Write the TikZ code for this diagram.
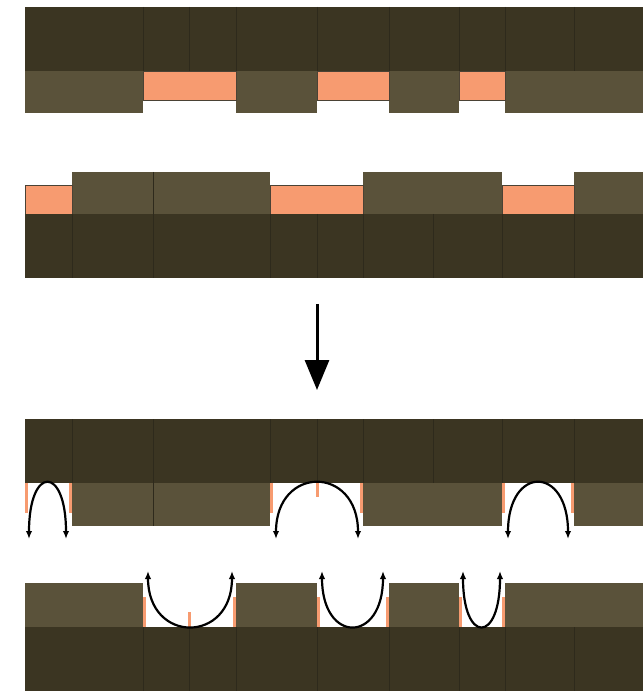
\documentclass[tikz,border=0pt]{standalone}
\usepackage{xcolor}
\usepackage{tikz}
\usetikzlibrary{arrows.meta}
\definecolor{cellbase}{HTML}{3B3522}
\definecolor{cellshade}{HTML}{5A523A}
\definecolor{seamline}{HTML}{2E2A1C}
\definecolor{gapfill}{HTML}{F79B70}
\definecolor{gapedge}{HTML}{4A4235}
\tikzset{
  % ---- cells ----------------------------------------------------------
  cdark/.style={fill=cellbase},
  clight/.style={fill=cellshade},
  cseam/.style={draw=seamline, line width=0.35pt},
  cgap/.style={fill=gapfill, draw=gapedge, line width=0.4pt},
  gaptick/.style={fill=gapfill},
  % ---- moves ----------------------------------------------------------
  hop/.style={{Latex[length=2mm,width=1.6mm]}-{Latex[length=2mm,width=1.6mm]},
              draw=black, line width=0.55mm},
  bigdown/.style={-{Triangle[length=7.5mm,width=6mm]}, draw=black,
                  line width=0.75mm},
}
\begin{document}
\begin{tikzpicture}[x=0.25mm, y=-0.25mm]

\useasboundingbox (0,0) rectangle (643,691);
\clip (0,0) rectangle (643,691);

% ---- top pair: dark row over light row with gaps ----------------------
\fill[cdark] (25,7) rectangle (643,71);
\foreach \x in {143,189,236,317,389,459,505,574}
  \draw[cseam] (\x,7) -- (\x,71);
\foreach \a/\b in {25/143, 236/317, 389/459, 505/643}
  \fill[clight] (\a,71) rectangle (\b,113);
\foreach \a/\b in {143/236, 317/389, 459/505}
  \filldraw[cgap] (\a,71) rectangle (\b,100);

% ---- second pair: light row with gaps over dark row -------------------
\foreach \a/\b in {72/270, 363/502, 574/643}
  \fill[clight] (\a,172) rectangle (\b,214);
\draw[cseam] (153,172) -- (153,214);
\foreach \a/\b in {25/72, 270/363, 502/574}
  \filldraw[cgap] (\a,185) rectangle (\b,214);
\fill[cdark] (25,214) rectangle (643,278);
\foreach \x in {72,153,270,317,363,433,502,574}
  \draw[cseam] (\x,214) -- (\x,278);

% ---- arrow down -------------------------------------------------------
\coordinate (gofrom) at (317,304);
\coordinate (goto) at (317,390);
\draw[bigdown] (gofrom) -- (goto);

% ---- third pair: gaps folded apart, arcs down -------------------------
\fill[cdark] (25,419) rectangle (643,483);
\foreach \x in {72,153,270,317,363,433,502,574}
  \draw[cseam] (\x,419) -- (\x,483);
\foreach \a/\b in {72/270, 363/502, 574/643}
  \fill[clight] (\a,483) rectangle (\b,526);
\draw[cseam] (153,483) -- (153,526);
\foreach \a/\b in {25/72, 270/363, 502/574}{
  \fill[gaptick] (\a,483) rectangle (\a+3,513);
  \fill[gaptick] (\b-3,483) rectangle (\b,513);
}
\fill[gaptick] (315.5,483) rectangle (318.5,497);

\foreach \i/\a/\b in {1/29/66, 2/276/358, 3/508/568}{
  \coordinate (dn\i a) at (\a,539);
  \coordinate (dn\i b) at (\b,539);
  \draw[hop] (dn\i a) .. controls +(0,-74) and +(0,-74) .. (dn\i b);
}

% ---- fourth pair: gaps folded apart, arcs up --------------------------
\foreach \a/\b in {25/143, 236/317, 389/459, 505/643}
  \fill[clight] (\a,583) rectangle (\b,627);
\fill[cdark] (25,627) rectangle (643,691);
\foreach \x in {143,189,236,317,389,459,505,574}
  \draw[cseam] (\x,627) -- (\x,691);
\foreach \a/\b in {143/236, 317/389, 459/505}{
  \fill[gaptick] (\a,597) rectangle (\a+3,627);
  \fill[gaptick] (\b-3,597) rectangle (\b,627);
}
\fill[gaptick] (187.5,612) rectangle (190.5,627);

\foreach \i/\a/\b in {1/148/232, 2/322/383, 3/463/500}{
  \coordinate (up\i a) at (\a,571);
  \coordinate (up\i b) at (\b,571);
  \draw[hop] (up\i a) .. controls +(0,73) and +(0,73) .. (up\i b);
}

\end{tikzpicture}
\end{document}
